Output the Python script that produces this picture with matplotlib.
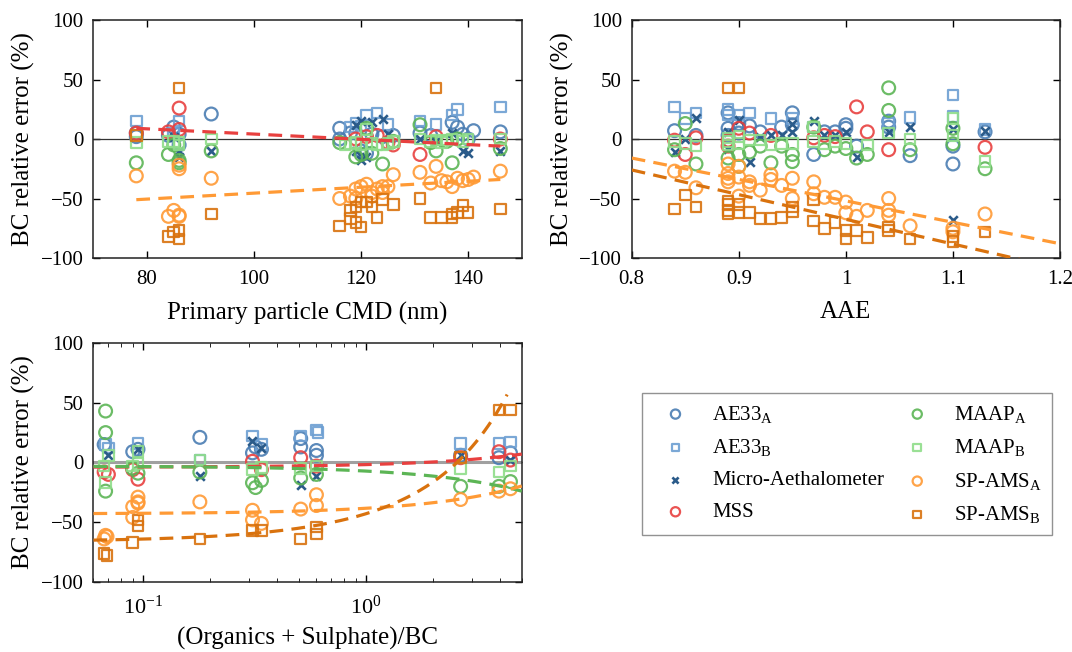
import numpy as np
import matplotlib
matplotlib.use('Agg')
from matplotlib import pyplot as plt

plt.rcParams['font.family'] = ['Liberation Serif', 'DejaVu Serif']
plt.rcParams['mathtext.fontset'] = 'custom'
plt.rcParams['mathtext.rm'] = 'Liberation Serif'
plt.rcParams['mathtext.it'] = 'Liberation Serif:italic'

# ---- data: (x, relative error %) ----
# primary particle CMD (nm)
cmd_ae33a = [(78, 5), (78, 2), (84, 3), (85, 10), (86, 4), (86, -5), (92, 21), (116, 9), (116, 0), (118, 5),
             (119, 5), (120, -10), (121, -12), (122, 4), (124, 2), (126, 3), (131, 5), (133, 3), (137, 14),
             (138, 10), (139, 4), (140, 0), (141, 7), (146, 6)]
cmd_ae33b = [(78, 15), (85, 5), (86, 15), (118, 10), (119, 13), (120, 11), (121, 20), (123, 22), (125, 12),
             (131, 15), (134, 12), (137, 20), (138, 25), (146, 27)]
cmd_micro = [(85, 2), (86, -10), (86, -15), (92, -10), (119, 12), (120, 15), (122, 14), (124, 17), (125, 4),
             (119, -10), (121, -15), (120, -18), (131, 0), (134, -2), (137, 5), (139, -10), (140, -12), (146, -10)]
cmd_mss = [(78, 5), (84, 6), (86, 8), (86, 26), (119, 0), (121, 2), (123, 3), (125, -3), (126, -5), (131, -13),
           (134, 2), (146, 0)]
cmd_maapa = [(78, -20), (84, -13), (85, -5), (86, -18), (86, -20), (92, -10), (116, -3), (119, -15), (120, -13),
             (121, 9), (122, -12), (124, -21), (126, -2), (131, 12), (133, -3), (134, -10), (136, -2), (137, -20),
             (138, 0), (146, -8)]
cmd_maapb = [(78, -3), (84, -2), (85, -2), (86, -5), (86, -3), (92, 0), (117, -5), (118, -4), (119, -3), (120, -5),
             (121, 8), (122, -4), (123, -5), (124, -5), (125, -4), (126, -2), (131, 0), (133, -2), (134, -1),
             (135, -3), (136, -1), (137, 0), (139, -2), (140, 0), (146, 0)]
cmd_amsa = [(78, -31), (86, -22), (86, -25), (85, -60), (84, -65), (86, -64), (86, -65), (92, -33), (116, -50),
            (118, -48), (119, -50), (119, -42), (120, -40), (121, -38), (122, -45), (122, -48), (123, -42),
            (124, -40), (124, -45), (125, -40), (126, -30), (131, -28), (133, -37), (134, -23), (135, -35),
            (136, -36), (137, -40), (138, -33), (139, -35), (140, -34), (141, -32), (146, -27)]
cmd_amsb = [(78, 3), (86, 43), (84, -82), (85, -78), (86, -77), (86, -84), (92, -63), (116, -73), (118, -67),
            (118, -60), (119, -57), (119, -70), (120, -53), (120, -74), (121, -53), (122, -57), (123, -66),
            (124, -51), (126, -55), (131, -50), (133, -66), (134, 43), (135, -66), (137, -66), (137, -63),
            (138, -62), (139, -56), (140, -62), (146, -59)]

# AAE
aae_ae33a = [(0.84, 7), (0.86, 3), (0.89, 22), (0.89, 9), (0.89, 3), (0.90, 13), (0.90, 5), (0.91, 11), (0.92, 6),
             (0.94, 10), (0.95, 22), (0.95, 12), (0.97, -13), (0.98, 6), (0.99, 6), (1.00, 12), (1.00, 9),
             (1.01, -6), (1.04, 15), (1.04, 10), (1.06, -14), (1.10, -6), (1.10, -21), (1.13, 6)]
aae_ae33b = [(0.84, 27), (0.85, 17), (0.86, 22), (0.89, 25), (0.89, 20), (0.90, 20), (0.91, 22), (0.93, 17),
             (0.95, 17), (0.97, 10), (1.04, 13), (1.06, 18), (1.10, 37), (1.10, 19), (1.13, 8)]
aae_micro = [(0.84, -11), (0.85, 0), (0.86, 18), (0.89, 6), (0.89, -8), (0.90, 16), (0.91, -19), (0.92, 2),
             (0.93, 3), (0.94, 3), (0.95, 13), (0.95, 6), (0.97, 15), (0.98, 3), (0.99, 3), (1.00, 6), (1.01, -15),
             (1.04, 6), (1.06, 10), (1.10, -68), (1.10, 8), (1.13, 7)]
aae_mss = [(0.84, -1), (0.85, -13), (0.86, 1), (0.89, -1), (0.89, -6), (0.90, 9), (0.91, 5), (0.93, 3), (0.97, 1),
           (0.98, 3), (0.99, 2), (1.01, 27), (1.02, 6), (1.04, -9), (1.13, -7)]
aae_maapa = [(0.84, -9), (0.85, 13), (0.86, -21), (0.89, -16), (0.90, -13), (0.90, -23), (0.91, -11), (0.92, -6),
             (0.93, -20), (0.94, -6), (0.95, -13), (0.95, -19), (0.97, 10), (0.98, -9), (0.99, -6), (1.00, -8),
             (1.01, -16), (1.02, -13), (1.04, 43), (1.04, 24), (1.06, -9), (1.10, 9), (1.10, -4), (1.13, -25)]
aae_maapb = [(0.84, -2), (0.85, -4), (0.86, -6), (0.89, 1), (0.89, -2), (0.89, -5), (0.90, 2), (0.90, -4),
             (0.91, -1), (0.92, -1), (0.93, -5), (0.94, -4), (0.95, -4), (0.97, 10), (0.97, -2), (0.98, -4),
             (0.99, -2), (1.00, -4), (1.02, -5), (1.04, 5), (1.06, 0), (1.10, 17), (1.10, 3), (1.13, -19)]
aae_amsa = [(0.84, -27), (0.85, -28), (0.86, -41), (0.89, -21), (0.89, -29), (0.89, -33), (0.89, -36), (0.90, -23),
            (0.90, -32), (0.90, -48), (0.91, -36), (0.91, -39), (0.92, -43), (0.93, -30), (0.93, -34), (0.94, -39),
            (0.95, -33), (0.95, -50), (0.97, -36), (0.97, -46), (0.98, -49), (0.99, -49), (1.00, -53), (1.00, -62),
            (1.01, -65), (1.02, -60), (1.04, -50), (1.04, -60), (1.04, -64), (1.06, -73), (1.10, -75), (1.10, -78),
            (1.13, -63)]
aae_amsb = [(0.89, 43), (0.90, 43), (0.84, -59), (0.85, -47), (0.86, -57), (0.89, -52), (0.89, -55), (0.89, -60),
            (0.89, -63), (0.90, -55), (0.90, -62), (0.91, -62), (0.92, -67), (0.93, -67), (0.94, -66), (0.95, -57),
            (0.95, -61), (0.97, -51), (0.97, -69), (0.98, -75), (0.99, -70), (1.00, -77), (1.00, -84), (1.01, -77),
            (1.02, -83), (1.04, -74), (1.04, -77), (1.06, -84), (1.10, -82), (1.10, -86), (1.13, -78)]

# (Organics + Sulphate)/BC
ratio_ae33a = [(0.067, 15), (0.09, 9), (0.095, 11), (0.18, 21), (0.31, 8), (0.32, 13), (0.34, 11), (0.51, 13),
               (0.51, 20), (0.60, 10), (0.60, 6), (2.66, 6), (3.95, 4), (4.45, 8)]
ratio_ae33b = [(0.068, 15), (0.07, 12), (0.095, 16), (0.18, 2), (0.31, 22), (0.34, 15), (0.51, 22), (0.60, 27),
               (0.61, 25), (2.66, 16), (3.95, 16), (4.45, 17)]
ratio_micro = [(0.07, 6), (0.095, 11), (0.18, -11), (0.31, 18), (0.34, 12), (0.51, -19), (0.60, -11), (2.66, 6),
               (4.45, 2)]
ratio_mss = [(0.067, -8), (0.07, -10), (0.09, -6), (0.095, -14), (0.31, 1), (0.34, -6), (0.51, 4), (0.60, -3),
             (2.66, 4), (3.95, 9), (4.45, 2)]
ratio_maapa = [(0.068, 43), (0.068, 25), (0.068, -24), (0.09, -5), (0.095, -9), (0.18, -8), (0.31, -17),
               (0.32, -21), (0.34, -15), (0.51, -13), (0.60, -10), (2.66, -20), (3.95, -20), (4.45, -16)]
ratio_maapb = [(0.067, -3), (0.068, -17), (0.07, 6), (0.09, -3), (0.095, -1), (0.095, 9), (0.18, 2), (0.31, -6),
               (0.34, -4), (0.51, -5), (0.60, -3), (2.66, -5), (3.95, -8), (4.45, -3)]
ratio_amsa = [(0.067, -64), (0.068, -61), (0.069, -62), (0.09, -37), (0.095, -29), (0.095, -33), (0.09, -46),
              (0.095, -34), (0.18, -33), (0.31, -40), (0.31, -48), (0.34, -51), (0.51, -39), (0.60, -27),
              (0.60, -36), (2.66, -31), (3.95, -24), (4.45, -22)]
ratio_amsb = [(0.067, -76), (0.069, -78), (0.09, -67), (0.095, -48), (0.095, -53), (0.18, -64), (0.31, -57),
              (0.34, -57), (0.51, -64), (0.60, -54), (0.60, -60), (2.66, 4), (3.95, 44), (4.45, 44)]

# trend lines
cmd_fit_x = [78, 146]
cmd_fit_mss = [9, -6]
cmd_fit_amsa = [-51, -34]
aae_fit_x = [0.8, 1.2]
aae_fit_amsa = [-16, -88]
aae_fit_amsb = [-26, -109]
ratio_fit_mss = [2.2, -4.0]          # polynomial coefficients in x
ratio_fit_maapa = [-4.2, -3.0]
ratio_fit_amsa = [4.66, -43.0]
ratio_fit_amsb = [1.59, 21.8, -66.3]

labels = ['AE33$_\\mathrm{A}$', 'AE33$_\\mathrm{B}$', 'Micro-Aethalometer', 'MSS',
          'MAAP$_\\mathrm{A}$', 'MAAP$_\\mathrm{B}$', 'SP-AMS$_\\mathrm{A}$', 'SP-AMS$_\\mathrm{B}$']
colors = ['#4a7db3', '#6d9fd2', '#2b5b8a', '#e8403f', '#5cb555', '#8fdd8a', '#ff9a35', '#d9720e']
markers = ['o', 's', 'x', 'o', 'o', 's', 'o', 's']
sizes = [85, 58, 38, 85, 85, 58, 85, 58]

C_MSS, C_MAAPA, C_AMSA, C_AMSB = colors[3], colors[4], colors[6], colors[7]


def draw_points(ax, sets):
    handles = []
    for pts, lab, c, m, s in zip(sets, labels, colors, markers, sizes):
        arr = np.array(pts, dtype=float)
        if m == 'x':
            h = ax.scatter(arr[:, 0], arr[:, 1], s=s, marker=m, color=c, linewidths=1.9, label=lab, zorder=3)
        else:
            h = ax.scatter(arr[:, 0], arr[:, 1], s=s, marker=m, facecolors='none', edgecolors=c,
                           linewidths=1.6, alpha=0.9, label=lab, zorder=3)
        handles.append(h)
    return handles


def style_axis(ax):
    ax.set_ylim(-100, 100)
    ax.set_yticks([-100, -50, 0, 50, 100])
    ax.tick_params(direction='in', top=True, right=True, labelsize=15, length=5, width=1)
    ax.tick_params(axis='x', pad=9)
    ax.tick_params(axis='y', pad=7)
    ax.tick_params(which='minor', direction='in', top=True, right=True, length=3)
    for sp in ax.spines.values():
        sp.set_linewidth(1.1)
        sp.set_color('#222222')
    ax.set_ylabel('BC relative error (%)', fontsize=18, labelpad=4)


fig = plt.figure(figsize=(10.72, 6.52), dpi=100)
ax1 = fig.add_axes([0.0872, 0.6043, 0.3995, 0.365])
ax2 = fig.add_axes([0.5893, 0.6043, 0.3995, 0.365])
ax3 = fig.add_axes([0.0872, 0.1074, 0.3995, 0.3666])

dash = (0, (4.3, 2.6))
lw_fit = 2.3

# panel 1
ax1.axhline(0, color='#333333', lw=0.9, zorder=2)
handles = draw_points(ax1, [cmd_ae33a, cmd_ae33b, cmd_micro, cmd_mss, cmd_maapa, cmd_maapb, cmd_amsa, cmd_amsb])
ax1.plot(cmd_fit_x, cmd_fit_mss, color=C_MSS, lw=lw_fit, linestyle=dash, zorder=4)
ax1.plot(cmd_fit_x, cmd_fit_amsa, color=C_AMSA, lw=lw_fit, linestyle=dash, zorder=4)
ax1.set_xlim(70, 150)
ax1.set_xticks([80, 100, 120, 140])
style_axis(ax1)
ax1.set_xlabel('Primary particle CMD (nm)', fontsize=18, labelpad=9)

# panel 2
ax2.axhline(0, color='#333333', lw=0.9, zorder=2)
draw_points(ax2, [aae_ae33a, aae_ae33b, aae_micro, aae_mss, aae_maapa, aae_maapb, aae_amsa, aae_amsb])
ax2.plot(aae_fit_x, aae_fit_amsa, color=C_AMSA, lw=lw_fit, linestyle=dash, zorder=4)
ax2.plot(aae_fit_x, aae_fit_amsb, color=C_AMSB, lw=lw_fit, linestyle=dash, zorder=4)
ax2.set_xlim(0.8, 1.2)
ax2.set_xticks([0.8, 0.9, 1.0, 1.1, 1.2])
ax2.set_xticklabels(['0.8', '0.9', '1', '1.1', '1.2'])
style_axis(ax2)
ax2.set_xlabel('AAE', fontsize=18, labelpad=8)

# panel 3
ax3.set_xscale('log')
ax3.axhline(0, color='#a0a0a0', lw=2.2, zorder=2)
draw_points(ax3, [ratio_ae33a, ratio_ae33b, ratio_micro, ratio_mss, ratio_maapa, ratio_maapb, ratio_amsa, ratio_amsb])
xs = np.logspace(np.log10(0.06), np.log10(5), 200)
xs_b = np.logspace(np.log10(0.06), np.log10(4.3), 200)
ax3.plot(xs, np.polyval(ratio_fit_mss, xs), color=C_MSS, lw=lw_fit, linestyle=dash, zorder=4)
ax3.plot(xs, np.polyval(ratio_fit_maapa, xs), color=C_MAAPA, lw=lw_fit, linestyle=dash, zorder=4)
ax3.plot(xs, np.polyval(ratio_fit_amsa, xs), color=C_AMSA, lw=lw_fit, linestyle=dash, zorder=4)
ax3.plot(xs_b, np.polyval(ratio_fit_amsb, xs_b), color=C_AMSB, lw=lw_fit, linestyle=dash, zorder=4)
ax3.set_xlim(0.06, 5)
ax3.set_xticks([0.1, 1])
ax3.set_xticklabels(['$10^{-1}$', '$10^{0}$'])
style_axis(ax3)
ax3.tick_params(axis='x', pad=10, labelsize=16)
ax3.set_xlabel('(Organics + Sulphate)/BC', fontsize=18, labelpad=6)

leg = fig.legend(handles, labels, ncol=2, loc='upper left', bbox_to_anchor=(0.599, 0.397),
                 borderaxespad=0, fontsize=15, frameon=True, fancybox=False, edgecolor='#777777',
                 scatterpoints=1, markerscale=0.72, handlelength=2.2, handletextpad=0.65,
                 labelspacing=0.6, borderpad=0.5, columnspacing=0.5)
leg.get_frame().set_linewidth(1.0)

fig.savefig('out.png', dpi=100)
